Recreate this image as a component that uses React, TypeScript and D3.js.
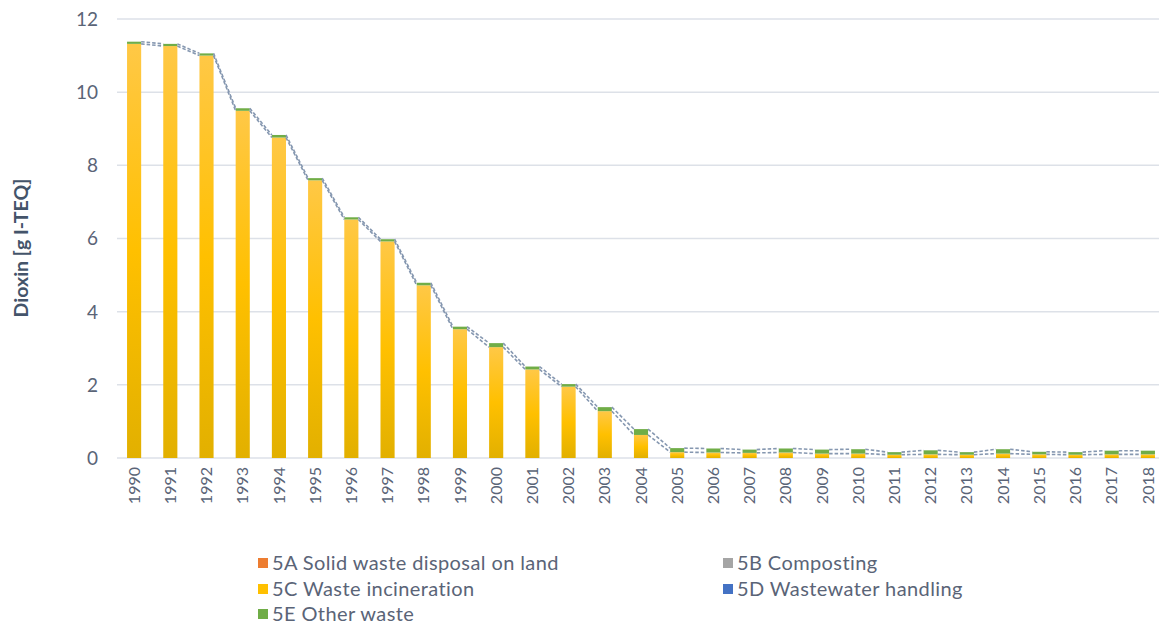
import React from "react";
import * as d3 from "d3";

const years = ["1990","1991","1992","1993","1994","1995","1996","1997","1998","1999","2000","2001","2002","2003","2004","2005","2006","2007","2008","2009","2010","2011","2012","2013","2014","2015","2016","2017","2018"];
const s5A = [0,0,0,0,0,0,0,0,0,0,0,0,0,0,0,0,0,0,0,0,0,0,0,0,0,0,0,0,0];
const s5B = [0,0,0,0,0,0,0,0,0,0,0,0,0,0,0,0,0,0,0,0,0,0,0,0,0,0,0,0,0];
const s5C = [11.32,11.26,11.0,9.49,8.76,7.59,6.52,5.92,4.72,3.52,3.03,2.42,1.95,1.28,0.63,0.16,0.15,0.14,0.15,0.12,0.12,0.09,0.1,0.09,0.12,0.1,0.09,0.1,0.1];
const s5D = [0,0,0,0,0,0,0,0,0,0,0,0,0,0,0,0,0,0,0,0,0,0,0,0,0,0,0,0,0];
const s5E = [0.06,0.06,0.06,0.07,0.07,0.06,0.06,0.06,0.07,0.07,0.11,0.08,0.07,0.11,0.16,0.11,0.11,0.09,0.11,0.11,0.12,0.07,0.11,0.07,0.12,0.07,0.07,0.1,0.1];
const seriesNames = ["5A Solid waste disposal on land","5B Composting","5C Waste incineration","5D Wastewater handling","5E Other waste"];
const seriesColors = ["#ED7D31","#A5A5A5","#FFC000","#4472C4","#70AD47"];
const yTicks = [0,2,4,6,8,10,12];

export default function App() {
  const W = 1159, H = 631;
  const x = d3.scaleBand<string>().domain(years).range([116, 1166]).paddingInner(0.61).paddingOuter(0.305);
  const y = d3.scaleLinear().domain([0, 12]).range([458, 19]);
  const all = [s5A, s5B, s5C, s5D, s5E];
  const rows = years.map((yr, i) => {
    const r: any = { year: yr };
    all.forEach((s, k) => (r["k" + k] = s[i]));
    return r;
  });
  const stack = d3.stack<any>().keys(["k0","k1","k2","k3","k4"])(rows);
  const bw = x.bandwidth();
  const textCol = "#5A6477";

  const seriesLines: { x1: number; y1: number; x2: number; y2: number }[] = [];
  stack.forEach((layer, k) => {
    if (k === 0 || k === 1 || k === 3) return;
    for (let i = 0; i < years.length - 1; i++) {
      seriesLines.push({
        x1: (x(years[i]) as number) + bw,
        y1: y(layer[i][1]),
        x2: x(years[i + 1]) as number,
        y2: y(layer[i + 1][1]),
      });
    }
  });

  const legendItems = [
    { i: 0, lx: 258, ly: 563 },
    { i: 1, lx: 723, ly: 563 },
    { i: 2, lx: 258, ly: 589 },
    { i: 3, lx: 723, ly: 589 },
    { i: 4, lx: 258, ly: 614 },
  ];

  return (
    <svg width={W} height={H} style={{ position: "absolute", left: 0, top: 0, background: "#fff" }} fontFamily="Lato, 'Open Sans', sans-serif">
      <defs>
        <linearGradient id="gy" x1="0" y1="0" x2="0" y2="1">
          <stop offset="0" stopColor="#FFC846" />
          <stop offset="0.5" stopColor="#FFC000" />
          <stop offset="1" stopColor="#E2B000" />
        </linearGradient>
      </defs>
      {yTicks.map((t) => (
        <g key={t}>
          <line x1={117} x2={W} y1={y(t)} y2={y(t)} stroke="#DDE1E8" strokeWidth={1.5} />
          <text x={98} y={y(t)} dy="0.36em" textAnchor="end" fontSize={19} fill={textCol}>{t}</text>
        </g>
      ))}
      <text transform={`translate(21,248) rotate(-90)`} textAnchor="middle" dy="0.35em" fontSize={19.5} fontWeight="bold" fill="#44546A">Dioxin [g I-TEQ]</text>
      {stack.map((layer, k) => (
        <g key={k}>
          {layer.map((d, i) => {
            const h = y(d[0]) - y(d[1]);
            if (h <= 0) return null;
            return (
              <rect key={i} x={x(years[i])} y={y(d[1])} width={bw} height={h}
                fill={k === 2 ? "url(#gy)" : seriesColors[k]} />
            );
          })}
        </g>
      ))}
      {seriesLines.map((l, i) => (
        <line key={i} x1={l.x1} y1={l.y1} x2={l.x2} y2={l.y2} stroke="#8597B0" strokeWidth={1.6} strokeDasharray="3.5,2" />
      ))}
      {years.map((yr) => (
        <text key={yr} transform={`translate(${(x(yr) as number) + bw / 2},467) rotate(-90)`} textAnchor="end" dy="0.35em" fontSize={16} fill={textCol}>{yr}</text>
      ))}
      {legendItems.map((it) => (
        <g key={it.i}>
          <rect x={it.lx} y={it.ly - 5} width={10} height={10} fill={seriesColors[it.i]} />
          <text x={it.lx + 14} y={it.ly} dy="0.35em" fontSize={20} letterSpacing={0.4} fill={textCol}>{seriesNames[it.i]}</text>
        </g>
      ))}
    </svg>
  );
}
